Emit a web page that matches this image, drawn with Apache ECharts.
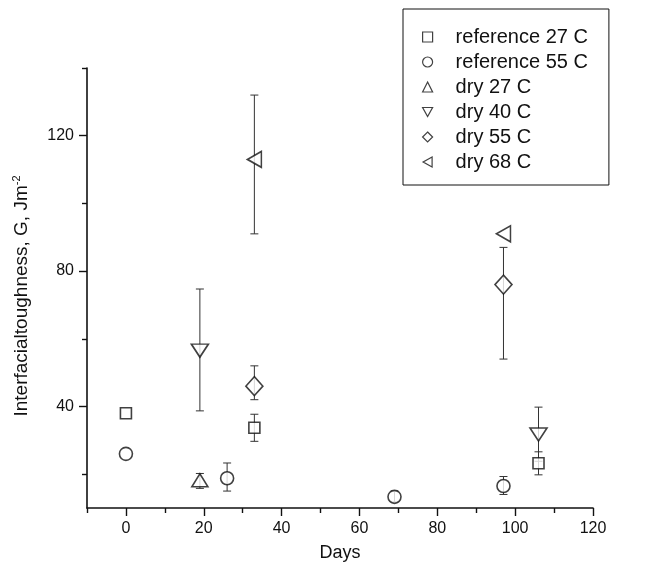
<!DOCTYPE html>
<html>
<head>
<meta charset="utf-8">
<script src="https://cdn.jsdelivr.net/npm/echarts@6/dist/echarts.min.js"></script>
<style>
html,body{margin:0;padding:0;background:#fff}
#chart{width:645px;height:571px}
</style>
</head>
<body>
<div id="chart"></div>
<script>
// values (days, G in J/m^2, error bar ends)
var ref27Days = [0, 33, 106];
var ref27Vals = [38, 33.7, 23.2];
var ref27Low  = [null, 29.7, 19.8];
var ref27High = [null, 37.7, 26.6];

var ref55Days = [0, 26, 69, 97];
var ref55Vals = [26, 18.8, 13.3, 16.5];
var ref55Low  = [null, 15, 11.8, 14];
var ref55High = [null, 23.3, 15, 19.3];

var dry27Days = [19];
var dry27Vals = [18.2];
var dry27Low  = [15.8];
var dry27High = [20.2];

var dry40Days = [19, 106];
var dry40Vals = [56.5, 31.7];
var dry40Low  = [38.7, 23.8];
var dry40High = [74.7, 39.8];

var dry55Days = [33, 97];
var dry55Vals = [46, 76];
var dry55Low  = [42, 54];
var dry55High = [52, 87];

var dry68Days = [33, 97];
var dry68Vals = [113, 91];
var dry68Low  = [91, null];
var dry68High = [132, null];

var xMajor = [0, 20, 40, 60, 80, 100, 120];
var xMinor = [-10, 10, 30, 50, 70, 90, 110];
var yMajor = [40, 80, 120];
var yMinor = [20, 60, 100, 140];

var names = ['reference 27 C', 'reference 55 C', 'dry 27 C', 'dry 40 C', 'dry 55 C', 'dry 68 C'];

var chart = echarts.init(document.getElementById('chart'));

function pts(days, vals){
	var out = [];
	for(var i = 0; i < days.length; i++){
		out.push([days[i], vals[i]]);
	}
	return out;
}
function errs(days, low, high){
	var out = [];
	for(var i = 0; i < days.length; i++){
		if(low[i] == null) continue;
		out.push([days[i], low[i], high[i]]);
	}
	return out;
}
function renderErr(params, api){
	var lo = api.coord([api.value(0), api.value(1)]);
	var hi = api.coord([api.value(0), api.value(2)]);
	var w = 4;
	var st = {stroke: '#333', lineWidth: 1};
	return {
		type: 'group',
		children: [
			{type: 'line', shape: {x1: lo[0], y1: lo[1], x2: hi[0], y2: hi[1]}, style: st},
			{type: 'line', shape: {x1: lo[0]-w, y1: lo[1], x2: lo[0]+w, y2: lo[1]}, style: st},
			{type: 'line', shape: {x1: hi[0]-w, y1: hi[1], x2: hi[0]+w, y2: hi[1]}, style: st}
		]
	};
}
function errSeries(data){
	return {
		type: 'custom',
		renderItem: renderErr,
		encode: {x: 0, y: [1, 2]},
		data: data,
		z: 1,
		silent: true
	};
}
function dotSeries(name, data, symbol, size){
	return {
		name: name,
		type: 'scatter',
		data: data,
		symbol: symbol,
		symbolSize: size,
		itemStyle: {color: '#fff', borderColor: '#111', borderWidth: 1.6},
		z: 2
	};
}

var downTri = 'path://M0,0L10,0L5,9Z';
var leftTri = 'path://M9,0L9,10L0,5Z';

var option = {
	backgroundColor: '#fff',
	animation: false,
	textStyle: {fontFamily: 'Liberation Sans', color: '#111'},
	grid: {left: 87, right: 52, top: 68, bottom: 63},
	legend: {
		data: names,
		orient: 'vertical',
		left: 403,
		top: 9,
		padding: [18, 21, 13, 19],
		itemWidth: 10,
		itemHeight: 10,
		itemGap: 5,
		borderColor: '#111',
		borderWidth: 1,
		backgroundColor: '#fff',
		itemStyle: {borderWidth: 1.2},
		textStyle: {fontSize: 20, color: '#111', fontFamily: 'Liberation Sans', padding: [0, 0, 0, 18]}
	},
	xAxis: [{
		type: 'value',
		min: -10,
		max: 120,
		position: 'bottom',
		name: 'Days',
		nameLocation: 'middle',
		nameGap: 36,
		nameTextStyle: {fontSize: 18, color: '#111'},
		axisLine: {onZero: false, lineStyle: {color: '#111', width: 1.6}},
		axisTick: {customValues: xMajor, length: 8, lineStyle: {color: '#111', width: 1.4}},
		axisLabel: {customValues: xMajor, fontSize: 16, color: '#111', margin: 13},
		splitLine: {show: false}
	}, {
		type: 'value',
		min: -10,
		max: 120,
		position: 'bottom',
		axisLine: {show: false, onZero: false},
		axisTick: {customValues: xMinor, length: 5, lineStyle: {color: '#111', width: 1.4}},
		axisLabel: {show: false},
		splitLine: {show: false}
	}],
	yAxis: [{
		type: 'value',
		min: 10,
		max: 140,
		position: 'left',
		name: 'Interfacialtoughness, G, Jm{sup|-2}',
		nameLocation: 'middle',
		nameGap: 55,
		nameTextStyle: {
			fontSize: 19,
			color: '#111',
			padding: [0, 16, 0, 0],
			rich: {sup: {fontSize: 11, padding: [0, 0, 10, 0], color: '#111'}}
		},
		axisLine: {onZero: false, lineStyle: {color: '#111', width: 1.6}},
		axisTick: {customValues: yMajor, length: 8, lineStyle: {color: '#111', width: 1.4}},
		axisLabel: {customValues: yMajor, fontSize: 16, color: '#111', margin: 13},
		splitLine: {show: false}
	}, {
		type: 'value',
		min: 10,
		max: 140,
		position: 'left',
		axisLine: {show: false, onZero: false},
		axisTick: {customValues: yMinor, length: 5, lineStyle: {color: '#111', width: 1.4}},
		axisLabel: {show: false},
		splitLine: {show: false}
	}],
	series: [
		errSeries(errs(ref27Days, ref27Low, ref27High)),
		errSeries(errs(ref55Days, ref55Low, ref55High)),
		errSeries(errs(dry27Days, dry27Low, dry27High)),
		errSeries(errs(dry40Days, dry40Low, dry40High)),
		errSeries(errs(dry55Days, dry55Low, dry55High)),
		errSeries(errs(dry68Days, dry68Low, dry68High)),
		dotSeries(names[0], pts(ref27Days, ref27Vals), 'rect', [11, 11]),
		dotSeries(names[1], pts(ref55Days, ref55Vals), 'circle', 13),
		dotSeries(names[2], pts(dry27Days, dry27Vals), 'triangle', [16, 13]),
		dotSeries(names[3], pts(dry40Days, dry40Vals), downTri, [17, 13]),
		dotSeries(names[4], pts(dry55Days, dry55Vals), 'diamond', [17, 19]),
		dotSeries(names[5], pts(dry68Days, dry68Vals), leftTri, [14, 16])
	]
};
chart.setOption(option);
</script>
</body>
</html>
